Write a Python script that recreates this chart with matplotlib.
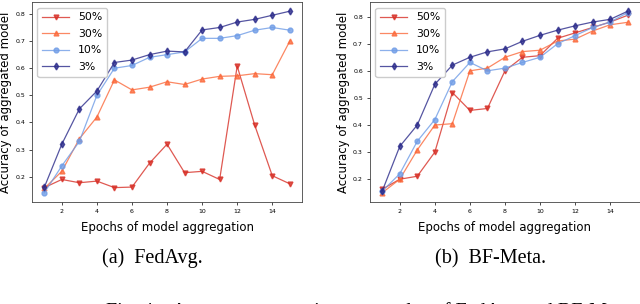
import matplotlib
matplotlib.use('Agg')
import matplotlib.pyplot as plt

epochs = list(range(1, 16))
labels = ['50%', '30%', '10%', '3%']

# FedAvg
fedavg_50 = [0.16, 0.19, 0.178, 0.184, 0.16, 0.162, 0.25, 0.32, 0.215, 0.22, 0.19, 0.608, 0.39, 0.204, 0.174]
fedavg_30 = [0.157, 0.22, 0.34, 0.42, 0.557, 0.52, 0.53, 0.55, 0.54, 0.56, 0.57, 0.572, 0.58, 0.576, 0.70]
fedavg_10 = [0.141, 0.24, 0.33, 0.50, 0.60, 0.61, 0.64, 0.65, 0.66, 0.71, 0.71, 0.72, 0.74, 0.75, 0.74]
fedavg_3 = [0.161, 0.32, 0.45, 0.516, 0.621, 0.63, 0.65, 0.663, 0.66, 0.741, 0.75, 0.77, 0.78, 0.795, 0.81]

# BF-Meta
bfmeta_50 = [0.163, 0.20, 0.211, 0.30, 0.52, 0.454, 0.461, 0.60, 0.65, 0.656, 0.72, 0.74, 0.76, 0.78, 0.805]
bfmeta_30 = [0.15, 0.20, 0.308, 0.40, 0.405, 0.60, 0.61, 0.65, 0.671, 0.676, 0.71, 0.717, 0.747, 0.77, 0.779]
bfmeta_10 = [0.156, 0.22, 0.34, 0.42, 0.56, 0.631, 0.60, 0.61, 0.631, 0.65, 0.70, 0.73, 0.76, 0.78, 0.815]
bfmeta_3 = [0.156, 0.321, 0.40, 0.55, 0.621, 0.65, 0.67, 0.681, 0.709, 0.731, 0.75, 0.766, 0.78, 0.79, 0.82]

colors = ['#d73027', '#fb6a3c', '#6f9ce6', '#2b2b8a']
markers = ['v', '^', 'o', 'd']

fig = plt.figure(figsize=(6.4, 3.04), dpi=100)
ax1 = fig.add_axes([0.05, 0.336, 0.422, 0.657])
ax2 = fig.add_axes([0.578, 0.336, 0.422, 0.657])

for ax, series in [(ax1, [fedavg_50, fedavg_30, fedavg_10, fedavg_3]),
                   (ax2, [bfmeta_50, bfmeta_30, bfmeta_10, bfmeta_3])]:
    for vals, c, m, lab in zip(series, colors, markers, labels):
        ax.plot(epochs, vals, color=c, marker=m, markersize=3.5, linewidth=0.9,
                alpha=0.8, label=lab)
    ax.set_xticks([2, 4, 6, 8, 10, 12, 14])
    ax.set_yticks([0.2, 0.3, 0.4, 0.5, 0.6, 0.7, 0.8])
    ax.tick_params(labelsize=4.5, length=2, width=0.5, pad=3)
    ax.set_xlabel('Epochs of model aggregation', fontsize=8.5, labelpad=5)
    ax.set_ylabel('Accuracy of aggregated model', fontsize=8.5, labelpad=2)
    for s in ax.spines.values():
        s.set_color('#444444')
        s.set_linewidth(0.6)
    ax.legend(loc='upper left', fontsize=7.8, handlelength=2.5, labelspacing=0.6,
              borderpad=0.45, edgecolor='#cccccc', framealpha=1.0)

fig.text(0.238, 0.15, '(a)  FedAvg.', fontsize=14.5, family='Liberation Serif',
         ha='center', va='center')
fig.text(0.767, 0.15, '(b)  BF-Meta.', fontsize=14.5, family='Liberation Serif',
         ha='center', va='center')
fig.text(0.58, 0.006, 'Fig. 4.   Accuracy comparison examples of FedAvg and BF-Meta.',
         fontsize=14.5, family='Liberation Serif', ha='center', va='top')

fig.savefig('out.png', dpi=100)
